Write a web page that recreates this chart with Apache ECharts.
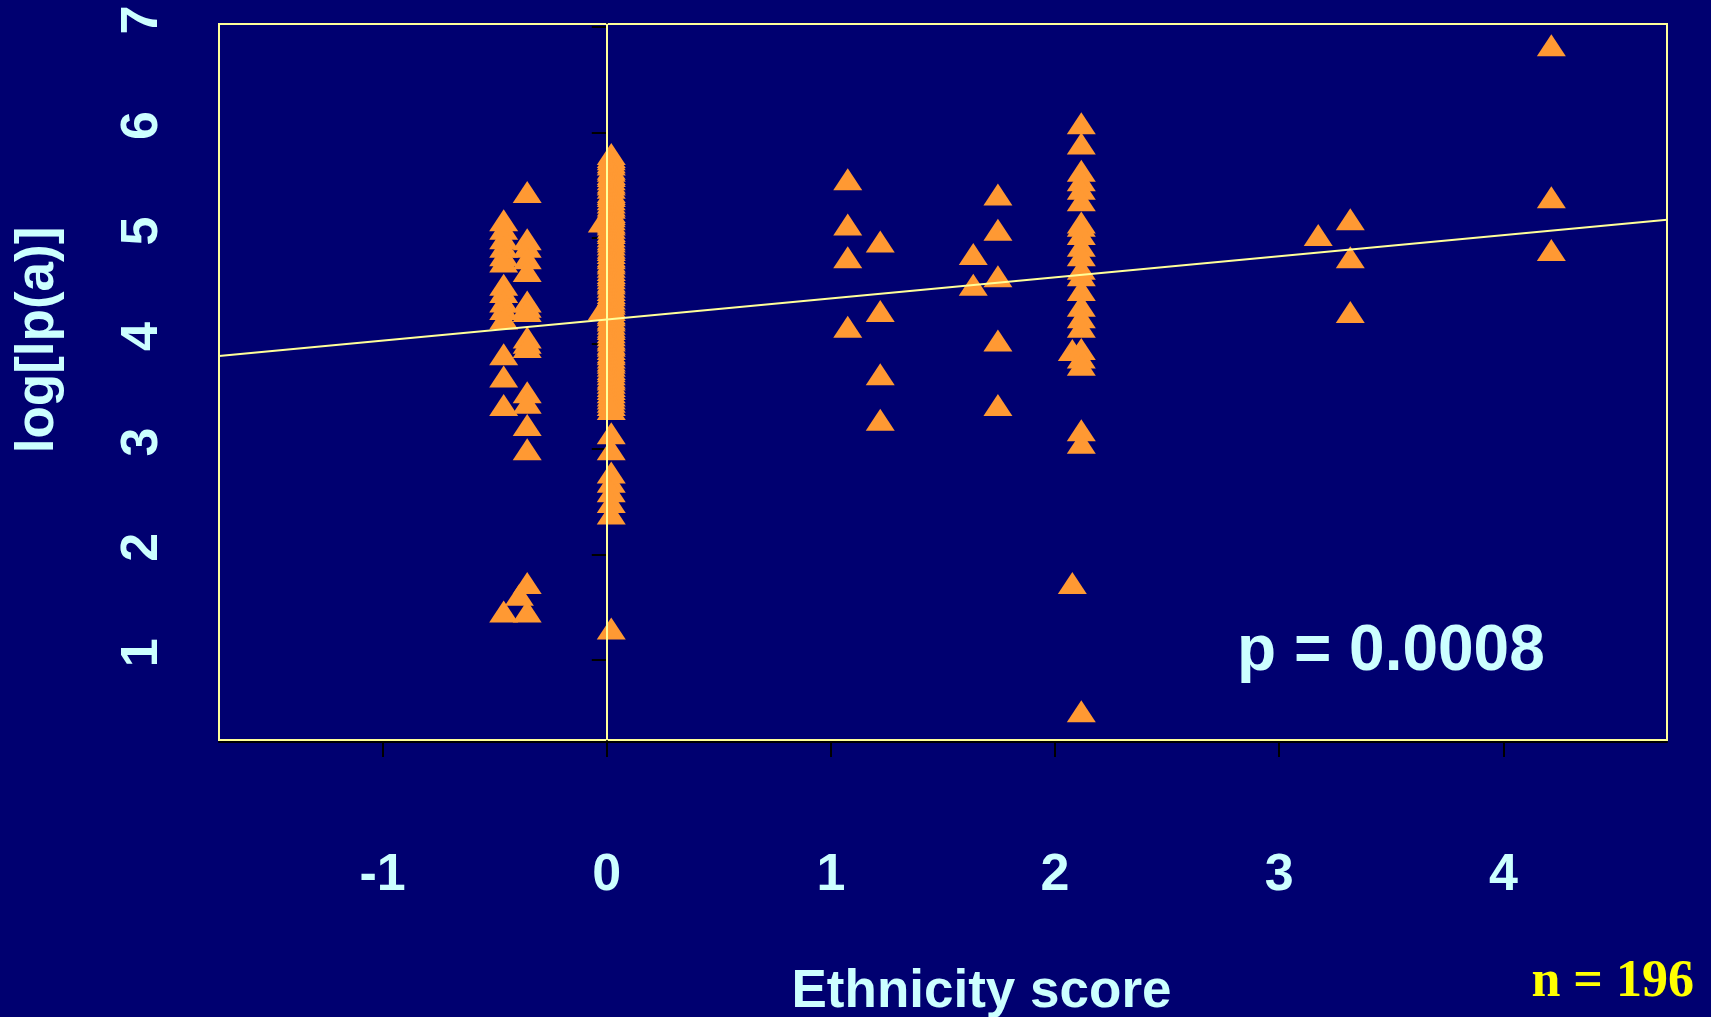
<!DOCTYPE html>
<html>
<head>
<meta charset="utf-8">
<script src="https://cdn.jsdelivr.net/npm/echarts@6/dist/echarts.min.js"></script>
<style>
  html, body { margin: 0; padding: 0; background: #000070; }
  #chart { width: 1711px; height: 1017px; }
</style>
</head>
<body>
<div id="chart"></div>
<script>
// ---- Data ----
const xTickValues = [-1, 0, 1, 2, 3, 4];
const yTickValues = [1, 2, 3, 4, 5, 6, 7];
const xRange = [-1.73, 4.73];
const yRange = [0.24, 7.03];

// Ethnicity score of each column of points
const groupX = [-0.46, -0.39, -0.355, -0.02, 0.02, 1.075, 1.22, 1.635, 1.745, 2.077, 2.117, 3.174, 3.317, 4.214];

// log[lp(a)] values for each column
const yAtM046 = [5.13, 5.05, 4.96, 4.88, 4.80, 4.74, 4.52, 4.45, 4.36, 4.29, 4.20, 3.86, 3.65, 3.38, 1.42];
const yAtM039 = [1.58];
const yAtM0355 = [5.40, 4.95, 4.88, 4.77, 4.65, 4.36, 4.31, 4.27, 4.02, 3.97, 3.93, 3.50, 3.40, 3.19, 2.96, 1.69, 1.42];
const yAtM002 = [5.12, 4.29];
const yAt002 = [5.76, 5.73, 5.71, 5.68, 5.66, 5.62, 5.60, 5.57, 5.55, 5.52, 5.49, 5.47, 5.44, 5.40, 5.38,
  5.36, 5.33, 5.30, 5.27, 5.25, 5.21, 5.19, 5.17, 5.14, 5.11, 5.09, 5.06, 5.03, 5.01, 4.98, 4.95, 4.93,
  4.90, 4.87, 4.85, 4.82, 4.79, 4.77, 4.74, 4.72, 4.69, 4.66, 4.63, 4.61, 4.58, 4.55, 4.53, 4.50, 4.47,
  4.44, 4.42, 4.39, 4.36, 4.34, 4.31, 4.28, 4.25, 4.23, 4.20, 4.18, 4.15, 4.12, 4.10, 4.07, 4.04, 4.01,
  3.99, 3.96, 3.94, 3.91, 3.88, 3.86, 3.83, 3.80, 3.78, 3.75, 3.72, 3.70, 3.67, 3.64, 3.62, 3.59, 3.56,
  3.53, 3.50, 3.47, 3.44, 3.41, 3.38, 3.34, 3.11, 2.96, 2.74, 2.65, 2.56, 2.46, 2.35, 1.26];
const yAt1075 = [5.52, 5.09, 4.78, 4.12];
const yAt122 = [4.93, 4.27, 3.67, 3.24];
const yAt1635 = [4.81, 4.52];
const yAt1745 = [5.375, 5.04, 4.60, 3.99, 3.38];
const yAt2077 = [3.90, 1.69];
const yAt2117 = [6.05, 5.86, 5.60, 5.51, 5.43, 5.32, 5.11, 5.08, 5.00, 4.89, 4.80, 4.67, 4.61, 4.47,
  4.32, 4.21, 4.12, 3.91, 3.83, 3.76, 3.14, 3.02, 0.475];
const yAt3174 = [4.99];
const yAt3317 = [5.14, 4.78, 4.26];
const yAt4214 = [6.79, 5.35, 4.85];

const groupY = [yAtM046, yAtM039, yAtM0355, yAtM002, yAt002, yAt1075, yAt122, yAt1635, yAt1745,
  yAt2077, yAt2117, yAt3174, yAt3317, yAt4214];

// Regression line
const fitIntercept = 4.228;
const fitSlope = 0.200;
const pText = 'p = 0.0008';
const nText = 'n = 196';

// ---- Build ----
const points = [];
groupX.forEach((x, i) => groupY[i].forEach(y => points.push([x, y])));
const fitLine = xRange.map(x => [x, fitIntercept + fitSlope * x]);

const CYAN = '#CCFFFF';
const PALE = '#FFFF99';
const FONT = '"Liberation Sans", Arial, sans-serif';

const chart = echarts.init(document.getElementById('chart'), null, { renderer: 'canvas' });
chart.setOption({
  backgroundColor: '#000070',
  animation: false,
  grid: {
    left: 219, right: 44, top: 24, bottom: 277,
    outerBoundsMode: 'none', containLabel: false,
    show: true, borderColor: PALE, borderWidth: 2, backgroundColor: 'transparent'
  },
  xAxis: {
    type: 'value', min: xRange[0], max: xRange[1], offset: 2,
    name: 'Ethnicity score', nameLocation: 'middle', nameGap: 224,
    nameTextStyle: { color: CYAN, fontSize: 53, fontWeight: 'bold', fontFamily: FONT, padding: [0, 0, 0, 77] },
    axisLine: { show: true, lineStyle: { color: '#000000', width: 2 } },
    axisTick: { show: true, length: 15, customValues: xTickValues, lineStyle: { color: '#000000', width: 2 } },
    axisLabel: { customValues: xTickValues, margin: 108, color: CYAN, fontSize: 52, fontWeight: 'bold', fontFamily: FONT },
    splitLine: { show: false }
  },
  yAxis: {
    type: 'value', min: yRange[0], max: yRange[1], offset: 2,
    name: 'log[lp(a)]', nameLocation: 'middle', nameGap: 152,
    nameTextStyle: { color: CYAN, fontSize: 53, fontWeight: 'bold', fontFamily: FONT, padding: [0, 0, 0, 84] },
    axisLine: { show: true, lineStyle: { color: '#000000', width: 2 } },
    axisTick: { show: true, length: 15, customValues: yTickValues, lineStyle: { color: '#000000', width: 2 } },
    axisLabel: { customValues: yTickValues, rotate: 90, margin: 48, color: CYAN, fontSize: 52, fontWeight: 'bold', fontFamily: FONT, padding: [0, 0, 0, 14] },
    splitLine: { show: false }
  },
  series: [
    {
      type: 'scatter',
      data: points,
      symbol: 'triangle',
      symbolSize: [29, 22],
      symbolOffset: [0, -4],
      itemStyle: { color: '#FF9933', opacity: 1 },
      z: 2
    },
    {
      type: 'line',
      data: fitLine,
      symbol: 'none',
      lineStyle: { color: PALE, width: 2 },
      z: 3,
      markLine: {
        silent: true,
        symbol: 'none',
        label: { show: false },
        lineStyle: { color: PALE, width: 2, type: 'solid' },
        data: [{ xAxis: 0 }]
      }
    }
  ],
  graphic: [
    {
      type: 'text', left: 1237, top: 620, z: 10,
      style: { text: pText, fill: CYAN, font: 'bold 64px ' + FONT }
    },
    {
      type: 'text', right: 17, top: 957, z: 10,
      style: { text: nText, fill: '#FFFF00', font: 'bold 52px "Liberation Serif", "Times New Roman", serif' }
    }
  ]
});
</script>
</body>
</html>
